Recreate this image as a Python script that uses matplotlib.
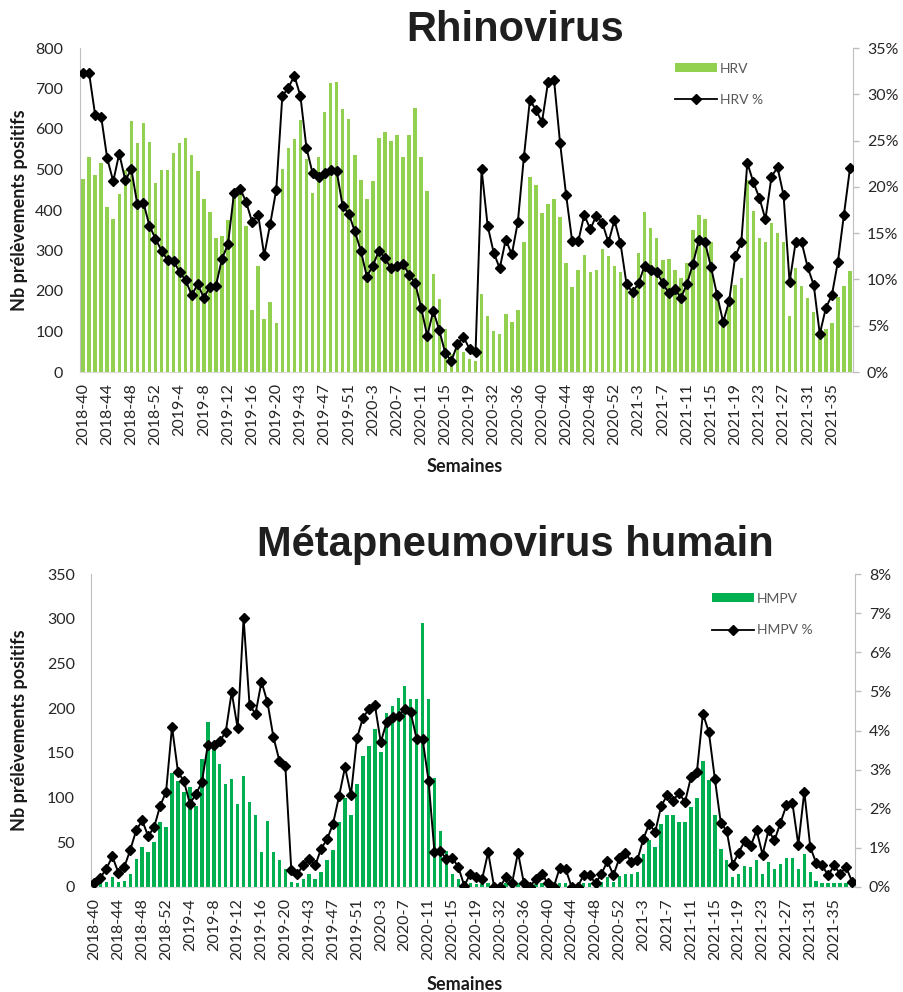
import matplotlib
matplotlib.use("Agg")
import matplotlib.pyplot as plt
from matplotlib.ticker import FuncFormatter, MultipleLocator
from matplotlib.lines import Line2D
from matplotlib.patches import Patch

# ---- categories (surveillance weeks) ----
weeks = ([f"2018-{w}" for w in range(40, 53)] + [f"2019-{w}" for w in range(1, 21)] +
         [f"2019-{w}" for w in range(40, 53)] + [f"2020-{w}" for w in range(1, 21)] +
         [f"2020-{w}" for w in range(30, 54)] + [f"2021-{w}" for w in range(1, 39)])

# ---- Rhinovirus ----
hrv_count = [476, 532, 487, 517, 408, 378, 439, 500, 620, 565, 614, 568, 466, 500, 500, 540,
             565, 577, 536, 496, 426, 396, 330, 336, 375, 441, 456, 360, 153, 261, 132, 173,
             121, 501, 553, 576, 623, 526, 441, 532, 643, 713, 716, 649, 625, 535, 474, 426,
             472, 577, 593, 571, 584, 532, 586, 653, 532, 448, 243, 181, 105, 45, 60, 49,
             33, 27, 192, 138, 101, 93, 144, 124, 154, 322, 481, 462, 393, 415, 426, 382,
             268, 210, 253, 289, 246, 253, 303, 286, 261, 247, 214, 190, 293, 396, 355, 330,
             276, 279, 252, 231, 270, 350, 388, 378, 322, 186, 128, 169, 214, 233, 474, 398,
             330, 322, 367, 342, 322, 138, 256, 212, 183, 148, 103, 107, 122, 186, 213, 250]
hrv_pct = [32.3, 32.3, 27.8, 27.6, 23.1, 20.6, 23.6, 20.7, 21.9, 18.1, 18.3, 15.8, 14.4, 13.1, 12.1, 12.0,
           10.8, 9.9, 8.3, 9.5, 8.0, 9.2, 9.3, 12.2, 13.8, 19.3, 19.8, 18.4, 16.2, 17.0, 12.6, 16.0,
           19.7, 29.8, 30.7, 32.0, 29.8, 24.2, 21.5, 21.1, 21.5, 21.8, 21.7, 17.9, 17.1, 15.2, 13.1, 10.3,
           11.5, 13.1, 12.3, 11.2, 11.5, 11.7, 10.5, 9.6, 6.9, 3.9, 6.6, 4.5, 2.0, 1.2, 3.0, 3.8,
           2.5, 2.2, 21.9, 15.8, 12.9, 11.2, 14.3, 12.7, 16.2, 23.2, 29.4, 28.3, 27.0, 31.3, 31.5, 24.7,
           19.1, 14.1, 14.1, 17.0, 15.4, 16.9, 16.1, 14.0, 16.4, 13.9, 9.5, 8.6, 9.6, 11.5, 11.0, 10.8,
           9.6, 8.5, 9.0, 8.0, 9.5, 11.7, 14.3, 14.0, 11.3, 8.3, 5.4, 7.7, 12.5, 14.0, 22.6, 20.5,
           18.8, 16.5, 21.1, 22.1, 19.1, 9.7, 14.0, 14.0, 11.3, 9.4, 4.1, 6.9, 8.3, 11.9, 17.0, 22.0]

# ---- Métapneumovirus humain ----
hmpv_count = [1, 5, 6, 11, 6, 7, 14, 31, 45, 39, 50, 73, 67, 128, 118, 106,
              112, 91, 143, 184, 156, 137, 115, 121, 93, 124, 95, 80, 39, 74, 39, 30,
              20, 6, 5, 9, 14, 9, 17, 30, 41, 73, 99, 80, 115, 147, 158, 177,
              151, 195, 202, 211, 225, 210, 210, 295, 210, 122, 63, 40, 15, 9, 5, 4,
              3, 3, 5, 1, 2, 4, 3, 4, 1, 1, 3, 4, 2, 1, 5, 5,
              1, 1, 4, 4, 2, 6, 11, 6, 12, 14, 14, 17, 37, 52, 45, 71,
              80, 80, 73, 73, 89, 99, 141, 120, 80, 43, 30, 11, 15, 24, 22, 30,
              15, 28, 20, 26, 32, 32, 20, 37, 17, 7, 5, 4, 5, 5, 5, 2]
hmpv_pct = [0.10, 0.24, 0.47, 0.78, 0.37, 0.51, 0.95, 1.45, 1.70, 1.30, 1.53, 2.07, 2.43, 4.09, 2.94, 2.70,
            2.13, 2.37, 2.68, 3.63, 3.63, 3.73, 3.96, 4.98, 4.06, 6.87, 4.64, 4.43, 5.25, 4.72, 3.83, 3.23,
            3.08, 0.43, 0.34, 0.55, 0.72, 0.55, 0.98, 1.22, 1.62, 2.32, 3.06, 2.36, 3.80, 4.32, 4.55, 4.66,
            3.70, 4.23, 4.34, 4.38, 4.54, 4.47, 3.79, 3.79, 2.72, 0.89, 0.91, 0.72, 0.74, 0.51, 0.03, 0.34,
            0.26, 0.21, 0.89, 0.0, 0.0, 0.26, 0.09, 0.88, 0.09, 0.0, 0.21, 0.34, 0.09, 0.0, 0.49, 0.45,
            0.0, 0.0, 0.31, 0.31, 0.09, 0.34, 0.66, 0.30, 0.74, 0.88, 0.64, 0.68, 1.22, 1.62, 1.40, 2.07,
            2.34, 2.21, 2.40, 2.17, 2.81, 2.95, 4.43, 3.96, 2.77, 1.64, 1.43, 0.57, 0.88, 1.17, 1.04, 1.45,
            0.83, 1.45, 1.19, 1.64, 2.09, 2.15, 1.08, 2.44, 1.02, 0.61, 0.55, 0.30, 0.55, 0.34, 0.51, 0.14]

FONT = ["Lato", "DejaVu Sans"]
plt.rcParams["font.family"] = FONT

W, H = 904, 992
fig = plt.figure(figsize=(W / 100, H / 100), dpi=100)


def make_panel(rect, counts, pct, bar_color, ymax, ystep, pmax, title, title_y, label_y,
               sem_y, leg_names, leg_anchor):
    ax = fig.add_axes(rect)
    x = list(range(len(weeks)))
    ax.bar(x, counts, width=0.58, color=bar_color, zorder=2)
    ax.set_xlim(-0.5, len(weeks) - 0.5)
    ax.set_ylim(0, ymax)
    ax.yaxis.set_major_locator(MultipleLocator(ystep))
    ax.set_xticks(x[::4])
    ax.set_xticklabels(weeks[::4], rotation=90, fontsize=11.5, color="#262626")
    ax.tick_params(axis="x", length=0, pad=8)
    ax.tick_params(axis="y", length=0, pad=12, labelsize=11.5, labelcolor="#262626")
    for s in ("top", "right"):
        ax.spines[s].set_visible(False)
    ax.spines["left"].set_color("#BFBFBF")
    ax.spines["bottom"].set_color("#D9D9D9")

    ax2 = ax.twinx()
    ax2.plot(x, pct, color="black", lw=1.4, marker="D", ms=5.5, mfc="black", mec="black", zorder=3)
    ax2.set_ylim(0, pmax)
    ax2.yaxis.set_major_locator(MultipleLocator(pmax / (7 if pmax == 35 else 8)))
    ax2.yaxis.set_major_formatter(FuncFormatter(lambda v, p: f"{v:.0f}%"))
    ax2.tick_params(axis="y", length=4, width=1, color="#BFBFBF", pad=6,
                    labelsize=11.5, labelcolor="#262626")
    for s in ("top", "left", "bottom"):
        ax2.spines[s].set_visible(False)
    ax2.spines["right"].set_color("#BFBFBF")

    handles = [Patch(facecolor=bar_color, edgecolor="none"),
               Line2D([0], [0], color="black", lw=1.3, marker="D", ms=5)]
    leg = ax2.legend(handles, leg_names, loc="upper left", bbox_to_anchor=leg_anchor,
                     frameon=False, fontsize=10, handlelength=3.0, handleheight=0.6,
                     handletextpad=0.2, labelspacing=1.4, borderpad=0, borderaxespad=0)
    for t in leg.get_texts():
        t.set_color("#595959")

    fig.text(515 / W, 1 - title_y / H, title, ha="center", va="center", fontsize=30,
             fontweight="bold", family=["Liberation Sans", "DejaVu Sans"], color="#1F1F1F")
    fig.text(20 / W, 1 - label_y / H, "Nb prélèvements positifs", rotation=90,
             ha="center", va="center", fontsize=13, fontweight="bold", color="#1A1A1A")
    fig.text(465 / W, 1 - sem_y / H, "Semaines", ha="center", va="center",
             fontsize=13, fontweight="bold", color="#1A1A1A")
    return ax, ax2


make_panel([80 / W, 1 - 372 / H, 773 / W, 324 / H], hrv_count, hrv_pct, "#92D050",
           800, 100, 35, "Rhinovirus", 30, 210, 466, ["HRV", "HRV %"], (0.770, 0.955))
make_panel([91.5 / W, 1 - 887 / H, 763.5 / W, 313 / H], hmpv_count, hmpv_pct, "#00B050",
           350, 50, 8, "Métapneumovirus humain", 545, 730, 984, ["HMPV", "HMPV %"], (0.813, 0.94))

fig.savefig("out.png", dpi=100)
